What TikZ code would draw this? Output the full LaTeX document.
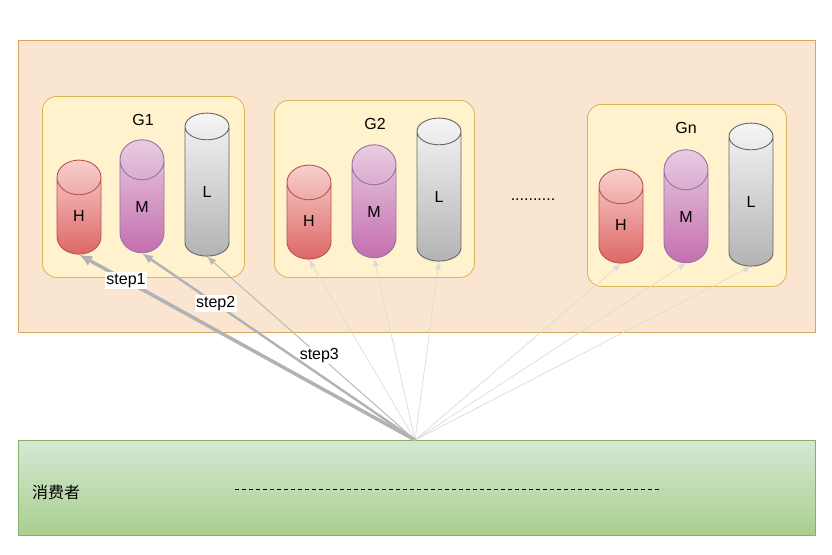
\documentclass[tikz,border=0pt]{standalone}
\usepackage{fontspec}
\setmainfont{Liberation Sans}
\newfontfamily\cjk{Noto Sans CJK SC}
\usetikzlibrary{shapes.geometric,arrows.meta}
\definecolor{outerF}{HTML}{FAE6D0}\definecolor{outerD}{HTML}{D6A55B}
\definecolor{grpF}{HTML}{FFF2CC}\definecolor{grpD}{HTML}{D6B656}
\definecolor{grnT}{HTML}{D5E8D4}\definecolor{grnB}{HTML}{A9CF8E}\definecolor{grnD}{HTML}{82B366}
\definecolor{hT}{HTML}{F8D0CC}\definecolor{hB}{HTML}{DD6766}\definecolor{hD}{HTML}{B85450}
\definecolor{mT}{HTML}{E8CCE2}\definecolor{mB}{HTML}{C46FAE}\definecolor{mD}{HTML}{9673A6}
\definecolor{lT}{HTML}{F5F5F5}\definecolor{lB}{HTML}{B3B3B3}\definecolor{lD}{HTML}{666666}
\begin{document}
\begin{tikzpicture}[x=1pt,y=-1pt,font=\fontsize{16}{19}\selectfont,
 grp/.style={draw=grpD,fill=grpF,rounded corners=14,line width=0.8},
 cyl/.style={cylinder,shape border rotate=90,minimum width=44,aspect=3,draw=#1,line width=0.9,inner sep=0},
 cH/.style={cyl=hD,top color=hT,bottom color=hB,minimum height=94},
 cM/.style={cyl=mD,top color=mT,bottom color=mB,minimum height=113},
 cL/.style={cyl=lD,top color=lT,bottom color=lB,minimum height=143},
 thin/.style={draw=gray!28,line width=0.7,-{Latex[length=8,width=6]}},
 st/.style={fill=white,inner sep=1.5}]
\useasboundingbox (0,0) rectangle (832,554);
\fill[white] (0,0) rectangle (832,554);
\node[draw=outerD,fill=outerF,line width=0.8,minimum width=797,minimum height=292,anchor=north west,inner sep=0] (outer) at (18,40) {};
\node[draw=grnD,top color=grnT,bottom color=grnB,line width=0.8,minimum width=797,minimum height=95,anchor=north west,inner sep=0] (cons) at (18,440) {};
\node[grp,minimum width=202,minimum height=181,anchor=north west] (g1) at (42,96) {};
\node[grp,minimum width=200,minimum height=177,anchor=north west] (g2) at (274,100) {};
\node[grp,minimum width=199,minimum height=182,anchor=north west] (gn) at (587,104) {};
\node (t1) at (143,120) {G1};
\node (t2) at (375,124) {G2};
\node (tn) at (686,128) {Gn};
\node[cH] (h1) at (79,216) {H};
\node[cM] (m1) at (142,206.5) {M};
\node[cL] (l1) at (207,191.5) {L};
\node[cH] (h2) at (309,221) {H};
\node[cM] (m2) at (374,211.5) {M};
\node[cL] (l2) at (439,196.5) {L};
\node[cH] (hn) at (621,225) {H};
\node[cM] (mn) at (686,216.5) {M};
\node[cL] (ln) at (751,201.5) {L};
\node (dots) at (533,200) {..........};
\node (cn) at (56,492) {\cjk 消费者};
\coordinate (src) at (415,440);
\coordinate (da) at (235,489);\coordinate (db) at (662,489);
\draw[dashed,dash pattern=on 4 off 3,line width=0.9] (da) -- (db);
\foreach \n in {h2,m2,l2,hn,mn,ln}{\draw[thin] (src) -- (\n.south);}
\draw[draw=gray!55,line width=1,-{Latex[length=9,width=7]}] (src) -- (l1.south) node[st,pos=0.46,text=black] (s3) {step3};
\draw[draw=gray!60,line width=2.4,-{Latex[length=11,width=9]}] (src) -- (m1.south) node[st,pos=0.73,text=black] (s2) {step2};
\draw[draw=gray!60,line width=3.5,-{Latex[length=13,width=11]}] (src) -- (h1.south) node[st,pos=0.86,text=black] (s1) {step1};
\end{tikzpicture}
\end{document}
